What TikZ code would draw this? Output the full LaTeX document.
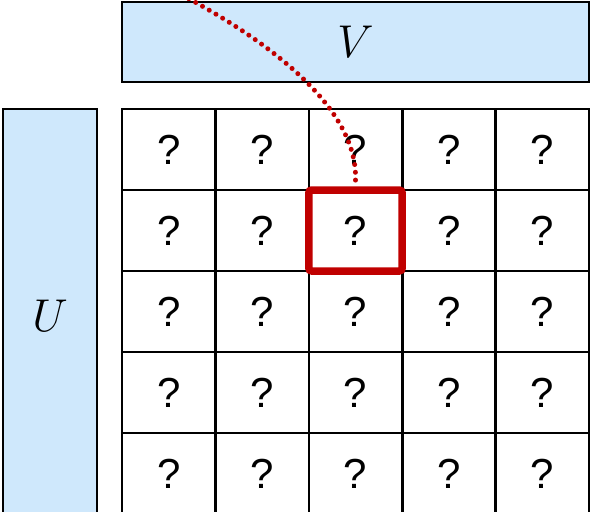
\documentclass[tikz,border=0pt]{standalone}
\usepackage{fix-cm}
\usepackage{fontspec}
\newfontfamily\cellfont{Liberation Sans}
\definecolor{factorblue}{RGB}{207,232,252}
\definecolor{pickred}{RGB}{192,0,0}
\tikzset{
  factor/.style={draw=black, line width=2.6pt, fill=factorblue, inner sep=0pt,
    font=\fontsize{46}{46}\selectfont},
  cell/.style={draw=black, line width=2.6pt, minimum width=93.4pt, minimum height=81pt,
    inner sep=0pt, font=\cellfont\fontsize{42}{42}\selectfont},
  pick/.style={draw=pickred, line width=7.5pt, rounded corners=3pt,
    minimum width=93.4pt, minimum height=81pt, inner sep=0pt},
}
\begin{document}
\begin{tikzpicture}[x=1pt, y=-1pt]
    \def\cw{93.4}
    \def\ch{81}
    \clip (0,0) rectangle (590,512);
    \useasboundingbox (0,0) rectangle (590,512);
    % the two factors
    \node[factor, minimum width=467pt, minimum height=80pt] (V) at (355.5,42) {$V$};
    \node[factor, minimum width=94pt, minimum height=414pt] (U) at (50,316) {$U$};
    % unknown entries
    \foreach \r in {1,...,5}
      \foreach \c in {1,...,5}
        \node[cell] (c-\r-\c) at ({122+(\c-0.5)*\cw}, {109+(\r-0.5)*\ch}) {?};
    \node[pick] (pick) at (c-2-3) {};
    \coordinate (from) at (182,-5);
    \draw[pickred, line width=5pt, dash pattern=on 0pt off 7.8pt, line cap=round]
      (from) .. controls (285,50) and (358,115) .. ([yshift=6pt]pick.north);
\end{tikzpicture}
\end{document}
